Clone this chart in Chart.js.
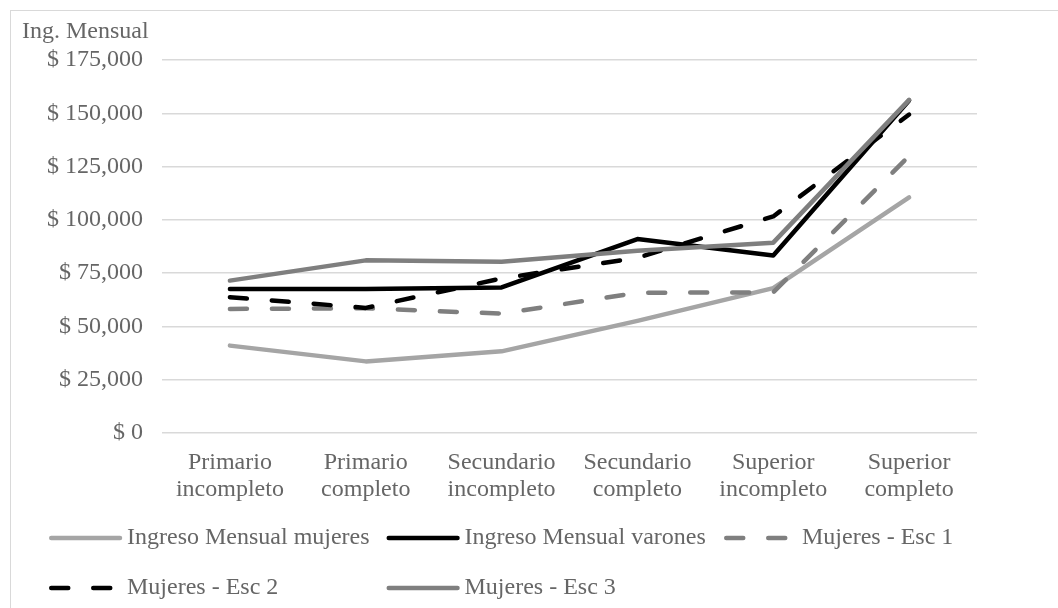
<!DOCTYPE html>
<html>
<head>
<meta charset="utf-8">
<script src="https://cdn.jsdelivr.net/npm/chart.js@4.4.1/dist/chart.umd.min.js"></script>
<style>
  html, body { margin: 0; padding: 0; background: #ffffff; overflow: hidden; }
  #wrap { position: relative; width: 1058px; height: 608px; overflow: hidden; }
  #frame { position: absolute; left: 10px; top: 10px; width: 1100px; height: 700px; border: 1px solid #d9d9d9; box-sizing: border-box; }
  canvas { position: absolute; left: 0; top: 0; }
</style>
</head>
<body>
<div id="wrap">
  <div id="frame"></div>
  <canvas id="c" width="1058" height="608"></canvas>
</div>
<script>
const categories = [
  ['Primario', 'incompleto'],
  ['Primario', 'completo'],
  ['Secundario', 'incompleto'],
  ['Secundario', 'completo'],
  ['Superior', 'incompleto'],
  ['Superior', 'completo']
];
const seriesNames = ['Ingreso Mensual mujeres', 'Ingreso Mensual varones', 'Mujeres - Esc 1', 'Mujeres - Esc 2', 'Mujeres - Esc 3'];
const mujeres = [41000, 33600, 38300, 52600, 68000, 110500];
const varones = [67600, 67600, 68300, 91000, 83300, 156000];
const esc1 = [58200, 58500, 56000, 65800, 66000, 130000];
const esc2 = [63700, 58700, 72500, 82200, 101600, 149400];
const esc3 = [71500, 81000, 80300, 85500, 89300, 156300];
const yMin = 0, yMax = 175000, yStep = 25000;
const axisTitle = 'Ing. Mensual';

const FONT = '"Liberation Serif", "Times New Roman", serif';
const TEXT = '#666666';

function mk(label, data, color, dashed, order) {
  return {
    label: label, data: data, borderColor: color, backgroundColor: color,
    borderWidth: 4.5, borderDash: dashed ? [17, 25] : [], borderCapStyle: 'round',
    borderJoinStyle: 'round', pointRadius: 0, pointHoverRadius: 0, tension: 0,
    fill: false, order: order
  };
}

const titlePlugin = {
  id: 'axisTitleTop',
  afterDraw(chart) {
    const ctx = chart.ctx;
    ctx.save();
    ctx.font = '24px ' + FONT;
    ctx.fillStyle = TEXT;
    ctx.textAlign = 'left';
    ctx.textBaseline = 'middle';
    ctx.fillText(axisTitle, 22, 32);
    ctx.restore();
  }
};

const legendPlugin = {
  id: 'gridLegend',
  afterDraw(chart) {
    const ctx = chart.ctx;
    chart.data.datasets.forEach((ds, i) => {
      const col = i % 3, row = Math.floor(i / 3);
      const x0 = 49 + col * 337.5;
      const y = 538 + row * 50;
      ctx.save();
      ctx.strokeStyle = ds.borderColor;
      ctx.lineWidth = ds.borderWidth;
      ctx.lineCap = 'round';
      ctx.setLineDash(ds.borderDash || []);
      ctx.beginPath();
      ctx.moveTo(x0 + 2.25, y);
      ctx.lineTo(x0 + 71, y);
      ctx.stroke();
      ctx.setLineDash([]);
      ctx.font = '24px ' + FONT;
      ctx.fillStyle = TEXT;
      ctx.textAlign = 'left';
      ctx.textBaseline = 'middle';
      ctx.fillText(ds.label, x0 + 78, y);
      ctx.restore();
    });
  }
};

new Chart(document.getElementById('c'), {
  type: 'line',
  data: {
    labels: categories,
    datasets: [
      mk(seriesNames[0], mujeres, '#a5a5a5', false, 5),
      mk(seriesNames[1], varones, '#000000', false, 4),
      mk(seriesNames[2], esc1, '#7f7f7f', true, 3),
      mk(seriesNames[3], esc2, '#000000', true, 2),
      mk(seriesNames[4], esc3, '#7f7f7f', false, 1)
    ]
  },
  options: {
    responsive: false,
    animation: false,
    devicePixelRatio: 1,
    layout: { padding: { left: 10, right: 81, top: 60, bottom: 95 } },
    plugins: { legend: { display: false }, tooltip: { enabled: false }, title: { display: false } },
    scales: {
      x: {
        offset: true,
        grid: { display: false, drawTicks: false },
        border: { display: false },
        ticks: { color: TEXT, font: { family: FONT, size: 24, lineHeight: 1.12 }, padding: 16, maxRotation: 0, autoSkip: false },
        afterFit(scale) { scale.height = 80; }
      },
      y: {
        min: yMin, max: yMax,
        grid: { color: '#d9d9d9', lineWidth: 1.5, drawTicks: false },
        border: { display: false },
        ticks: {
          stepSize: yStep, color: TEXT, padding: 19,
          font: { family: FONT, size: 24 },
          callback: v => '$ ' + v.toLocaleString('en-US')
        },
        afterFit(scale) { scale.width = 152; }
      }
    }
  },
  plugins: [titlePlugin, legendPlugin]
});
</script>
</body>
</html>
